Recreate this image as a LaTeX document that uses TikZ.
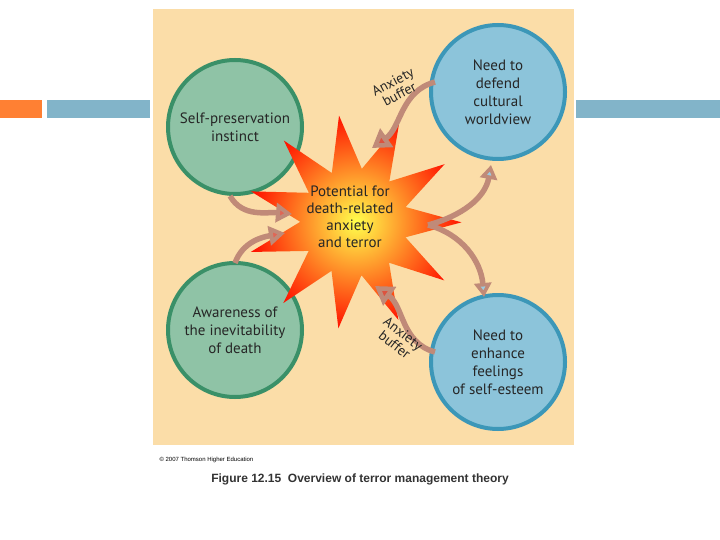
\documentclass[tikz,border=0pt]{standalone}
\usepackage{fontspec}
\setmainfont{PT Sans}
\newfontfamily\capfont{Liberation Sans}
\usetikzlibrary{shapes.geometric,arrows.meta}
\definecolor{panel}{HTML}{FBDDA8}
\definecolor{gfill}{HTML}{8FC3A6}
\definecolor{gedge}{HTML}{3A9068}
\definecolor{bfill}{HTML}{8CC4DA}
\definecolor{bedge}{HTML}{3C97B8}
\definecolor{arrred}{HTML}{D8402A}
\definecolor{arrblue}{HTML}{9CCBE0}
\definecolor{arrmid}{HTML}{C08A78}
\tikzset{
  gcirc/.style={circle,minimum size=134pt,inner sep=0pt,fill=gfill,draw=gedge,line width=4pt,align=center,font=\fontsize{15}{18}\selectfont,text=black!85},
  bcirc/.style={circle,minimum size=134pt,inner sep=0pt,fill=bfill,draw=bedge,line width=4pt,align=center,font=\fontsize{15}{18}\selectfont,text=black!85},
  arr/.style={line width=5.5pt,draw=arrmid},
  bufl/.style={font=\fontsize{14}{14}\selectfont,align=center,text=black!85}
}
\begin{document}
\begin{tikzpicture}[x=1pt,y=-1pt]
\useasboundingbox (0,0) rectangle (720,540);
\fill[white] (0,0) rectangle (720,540);
\fill[orange!75!red!80] (0,100) rectangle (42,118);
\fill[blue!30!cyan!40!gray!70] (47,100) rectangle (150,118);
\fill[blue!30!cyan!40!gray!70] (576,100) rectangle (720,118);
\fill[panel] (153,9) rectangle (574,445);
\node[gcirc] (sp) at (235,127) {Self-preservation\\instinct};
\node[gcirc] (aw) at (235,330) {Awareness of\\the inevitability\\of death};
\node[bcirc] (cw) at (498,92) {Need to\\defend\\cultural\\worldview};
\node[bcirc] (se) at (498,362) {Need to\\enhance\\feelings\\of self-esteem};
\node[star,star points=11,star point ratio=2.0,minimum size=215pt,inner color=yellow!70,outer color=red!85!orange,rotate=8] (st) at (354,222) {};
\node[align=center,font=\fontsize{15}{17}\selectfont,text=black!85] (stt) at (350,217) {Potential for\\death-related\\anxiety\\and terror};
\draw[arr,-{Triangle[length=16pt,width=19pt,fill=arrred!80]}] (sp.south) ++(-5,0) to[out=-60,in=175] (292,214);
\draw[arr,-{Triangle[length=16pt,width=19pt,fill=arrred!80]}] (aw.north) ++(0,2) to[out=70,in=190] (285,233);
\draw[arr,-{Triangle[length=18pt,width=22pt,fill=arrred!90]}] (cw.west) ++(6,-10) to[out=195,in=35] (372,148);
\draw[arr,-{Triangle[length=18pt,width=22pt,fill=arrred!90]}] (se.west) ++(6,-10) to[out=165,in=-35] (375,286);
\coordinate (fork) at (428,225);
\draw[arr,-{Triangle[length=14pt,width=17pt,fill=arrblue]}] (fork) to[out=15,in=-100] (491,165);
\draw[arr,-{Triangle[length=14pt,width=17pt,fill=arrblue]}] (fork) to[out=-15,in=95] (484,297);
\node[bufl,rotate=28] (b1) at (396,88) {Anxiety\\buffer};
\node[bufl,rotate=-38] (b2) at (399,339) {Anxiety\\buffer};
\node[font=\capfont\fontsize{6}{7}\selectfont,anchor=west] (cp) at (156,460) {\textcopyright\ 2007 Thomson Higher Education};
\node[font=\capfont\bfseries\fontsize{12}{14}\selectfont,text=black!80] (cap) at (360,479) {Figure 12.15\ \ Overview of terror management theory};
\end{tikzpicture}
\end{document}
